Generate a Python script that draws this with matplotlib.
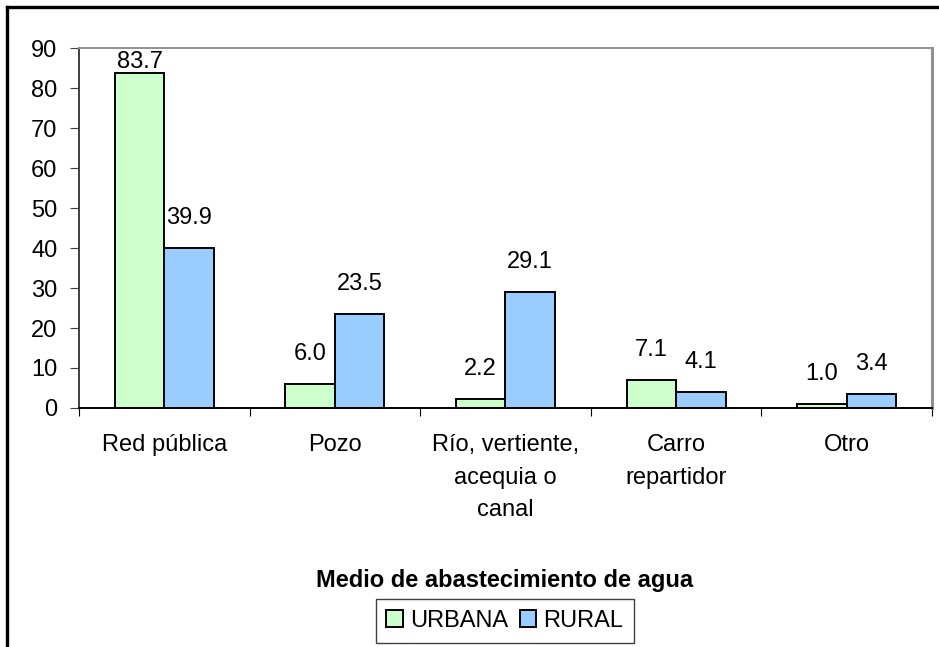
import matplotlib.pyplot as plt
import numpy as np
from matplotlib.lines import Line2D

plt.rcParams['font.family'] = ['Liberation Sans', 'DejaVu Sans']

categorias = ['Red pública', 'Pozo', 'Río, vertiente,\nacequia o\ncanal', 'Carro\nrepartidor', 'Otro']
urbana = [83.7, 6.0, 2.2, 7.1, 1.0]
rural = [39.9, 23.5, 29.1, 4.1, 3.4]

verde = '#CCFFCC'
azul = '#99CCFF'
fs = 17

fig = plt.figure(figsize=(9.39, 6.47), dpi=100)
ax = fig.add_axes([0.0841, 0.3694, 0.9084, 0.5564])

x = np.arange(len(categorias))
w = 0.29
b1 = ax.bar(x - w / 2, urbana, w, color=verde, edgecolor='black', linewidth=1.4, label='URBANA')
b2 = ax.bar(x + w / 2, rural, w, color=azul, edgecolor='black', linewidth=1.4, label='RURAL')

# etiquetas de valores
for xs, vals in ((x - w / 2, urbana), (x + w / 2, rural)):
    for xi, v in zip(xs, vals):
        yl = min(v + 7.5, 86.6)
        ax.text(xi, yl, f'{v:.1f}', ha='center', va='center', fontsize=fs)

ax.set_xlim(-0.5, len(categorias) - 0.5)
ax.set_ylim(0, 90)
ax.set_yticks(range(0, 91, 10))
ax.set_xticks(np.arange(-0.5, len(categorias), 1.0))
ax.set_xticklabels([])
ax.set_xticks(x, minor=True)
ax.set_xticklabels(categorias, minor=True, fontsize=fs, linespacing=1.6, va='top')
ax.tick_params(axis='x', which='minor', length=0, pad=19)
ax.tick_params(axis='x', which='major', length=5.5, direction='out', color='black')
ax.tick_params(axis='y', length=6.5, direction='out', labelsize=fs, pad=9, color='#404040')

ax.spines['left'].set_color('#404040')
ax.spines['bottom'].set_color('black')
ax.spines['top'].set_color('#909090')
ax.spines['right'].set_color('#909090')
for s in ax.spines.values():
    s.set_linewidth(1.4)
ax.spines['right'].set_linewidth(2.2)

fig.text(0.5378, 1 - 581 / 647, 'Medio de abastecimiento de agua', ha='center', va='center',
         fontsize=17, fontweight='bold')

leg = fig.legend(handles=[b1, b2], labels=['URBANA', 'RURAL'], loc='center',
                 bbox_to_anchor=(0.5378, 1 - 621 / 647), ncol=2, fontsize=fs,
                 frameon=True, fancybox=False, edgecolor='#404040', framealpha=1,
                 handlelength=0.7, handleheight=0.7, handletextpad=0.3,
                 columnspacing=0.5, borderpad=0.45)
leg.get_frame().set_linewidth(1.0)

# borde del recuadro: solo arriba e izquierda
yb = 1 - 7 / 647
xb = 7 / 939
fig.add_artist(Line2D([xb, 1], [yb, yb], transform=fig.transFigure, color='black', linewidth=2.4))
fig.add_artist(Line2D([xb, xb], [0, yb], transform=fig.transFigure, color='black', linewidth=2.4))

fig.savefig('out.png', dpi=100)
